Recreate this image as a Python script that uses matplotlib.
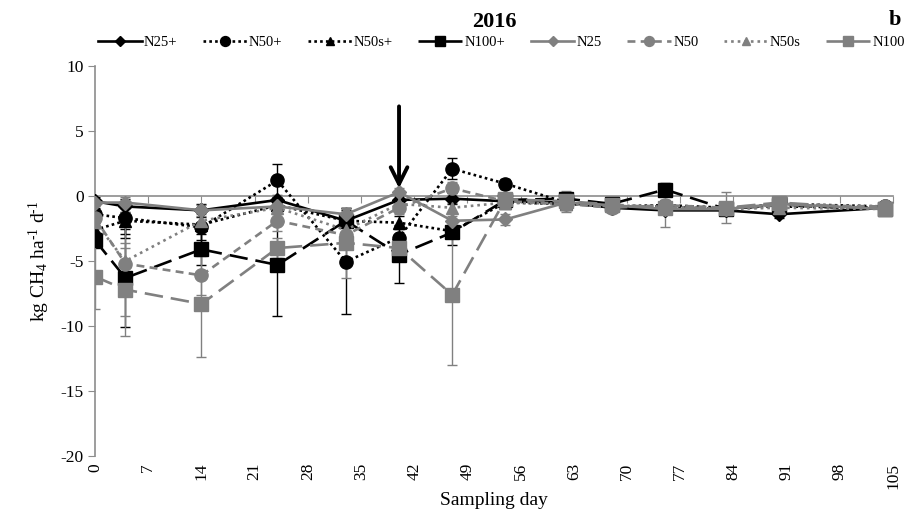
import numpy as np
import matplotlib
matplotlib.use('Agg')
import matplotlib.pyplot as plt

plt.rcParams['font.family'] = ['Liberation Serif', 'DejaVu Serif']
plt.rcParams['mathtext.fontset'] = 'custom'
plt.rcParams['mathtext.rm'] = 'Liberation Serif'
plt.rcParams['mathtext.it'] = 'Liberation Serif:italic'
plt.rcParams['axes.unicode_minus'] = False

# sampling days and CH4 fluxes (kg CH4 ha-1 d-1), 2016
days = [0, 4, 14, 24, 33, 40, 47, 54, 62, 68, 75, 83, 90, 104]

n25p = [-0.4, -0.8, -1.1, -0.3, -1.9, -0.3, -0.2, -0.4, -0.5, -0.9, -1.1, -1.1, -1.4, -0.9]
n50p = [-1.4, -1.7, -2.4, 1.2, -5.05, -3.2, 2.1, 0.95, -0.5, -0.8, -0.8, -1.0, -0.6, -0.8]
n50sp = [-2.6, -1.9, -2.2, -0.7, -1.9, -2.05, -2.7, -0.5, -0.6, -0.8, -0.7, -0.9, -0.8, -0.9]
n100p = [-3.4, -6.3, -4.1, -5.3, -1.9, -4.5, -2.8, -0.3, -0.2, -0.6, 0.5, -1.0, -0.7, -1.0]
n25 = [-0.5, -0.5, -1.1, -0.8, -1.4, 0.3, -1.9, -1.8, -0.5, -0.7, -1.0, -1.0, -0.6, -1.0]
n50 = [-1.7, -5.2, -6.1, -1.9, -3.0, -0.9, 0.6, -0.4, -0.6, -0.9, -0.7, -0.9, -0.7, -0.8]
n50s = [-2.0, -5.0, -1.9, -0.9, -2.6, -0.6, -0.9, -0.5, -0.6, -0.8, -0.8, -1.0, -0.9, -1.0]
n100 = [-6.2, -7.2, -8.3, -4.0, -3.6, -4.0, -7.6, -0.25, -0.4, -0.65, -0.9, -0.9, -0.5, -1.0]

# standard deviations
sd_n25p = [0.3, 0.4, 0.5, 0.4, 0.5, 0.4, 0.4, 0.3, 0.3, 0.3, 0.3, 0.3, 0.3, 0.3]
sd_n50p = [0.5, 1.5, 1.2, 1.3, 4.0, 1.0, 0.8, 0.4, 0.4, 0.3, 0.4, 0.4, 0.3, 0.3]
sd_n50sp = [0.5, 1.0, 1.2, 0.5, 1.0, 0.5, 0.5, 0.3, 0.3, 0.3, 0.4, 0.3, 0.3, 0.3]
sd_n100p = [0.6, 3.8, 1.2, 3.9, 1.0, 2.2, 1.0, 0.4, 0.4, 0.3, 0.5, 0.4, 0.3, 0.3]
sd_n25 = [0.3, 0.4, 0.4, 0.4, 0.5, 0.3, 0.4, 0.4, 0.3, 0.3, 0.3, 0.3, 0.3, 0.3]
sd_n50 = [0.5, 4.0, 1.5, 0.8, 1.0, 0.5, 0.5, 0.3, 0.4, 0.4, 0.4, 0.4, 0.3, 0.3]
sd_n50s = [0.4, 1.0, 0.5, 0.4, 0.6, 0.4, 0.4, 0.3, 0.3, 0.3, 0.4, 0.3, 0.3, 0.3]
sd_n100 = [2.5, 3.6, 4.1, 0.8, 2.7, 0.8, 5.4, 0.3, 0.8, 0.4, 1.5, 1.2, 0.3, 0.3]

labels = ['N25+', 'N50+', 'N50s+', 'N100+', 'N25', 'N50', 'N50s', 'N100']
fert_day = 40

blk = 'black'
gry = '#808080'

series = [
    (n25p, sd_n25p, blk, '-', 'D', 7),
    (n50p, sd_n50p, blk, (0, (1, 1.2)), 'o', 9.5),
    (n50sp, sd_n50sp, blk, (0, (1, 1.2)), '^', 8.5),
    (n100p, sd_n100p, blk, (0, (7, 3)), 's', 9.5),
    (n25, sd_n25, gry, '-', 'D', 7),
    (n50, sd_n50, gry, (0, (3, 2)), 'o', 9.5),
    (n50s, sd_n50s, gry, (0, (1, 1.5)), '^', 8.5),
    (n100, sd_n100, gry, (0, (7, 3)), 's', 9.5),
]

fig = plt.figure(figsize=(9.1, 5.22), dpi=100)
ax = fig.add_axes([0.1044, 0.1264, 0.877, 0.747])

handles = []
for (vals, sd, col, ls, mk, ms), lab in zip(series, labels):
    ax.errorbar(days, vals, yerr=sd, fmt='none', ecolor=col, elinewidth=1.0,
                capsize=3.5, capthick=1.0, zorder=2)
    h, = ax.plot(days, vals, color=col, ls=ls, lw=1.9, marker=mk, ms=ms,
                 mfc=col, mec=col, label=lab, zorder=3)
    handles.append(h)

ax.annotate('', xy=(fert_day, 0.6), xytext=(fert_day, 6.9),
            arrowprops=dict(arrowstyle='->', lw=2.8, color='black',
                            mutation_scale=30, shrinkA=0, shrinkB=0))

ax.set_xlim(0, 105)
ax.set_ylim(-20, 10)
ax.set_yticks(np.arange(-20, 11, 5))
ax.set_xticks(np.arange(0, 106, 7))

axcol = '#8c8c8c'
for s in ['top', 'right']:
    ax.spines[s].set_visible(False)
ax.spines['left'].set_color(axcol)
ax.spines['bottom'].set_color(axcol)
ax.spines['bottom'].set_position(('data', 0))
ax.spines['left'].set_linewidth(1.2)
ax.spines['bottom'].set_linewidth(1.2)
ax.tick_params(axis='x', direction='out', length=5, color=axcol, labelbottom=False)
ax.tick_params(axis='y', direction='out', length=5, color=axcol, labelsize=12.5, pad=3)

sec = ax.secondary_xaxis(0.0)
sec.set_xticks(np.arange(0, 106, 7))
sec.spines['bottom'].set_visible(False)
sec.tick_params(length=0, labelsize=12.5, pad=5, labelrotation=90)
sec.set_xlabel('Sampling day', fontsize=14, labelpad=2)

ax.set_ylabel(r'kg CH$_4$ ha$^{\text{-1}}$ d$^{\text{-1}}$', fontsize=14, labelpad=6)

ax.set_title('2016', fontsize=16, fontweight='bold', pad=28)
fig.text(0.99, 0.962, 'b', fontsize=16, fontweight='bold', ha='right', va='center')

fig.legend(handles=handles, loc='center', bbox_to_anchor=(0.551, 0.918), ncol=8,
           frameon=False, fontsize=10.5, handlelength=3.0, handletextpad=0.15,
           columnspacing=1.75, borderaxespad=0, markerscale=0.75)

fig.savefig('out.png', dpi=100)
